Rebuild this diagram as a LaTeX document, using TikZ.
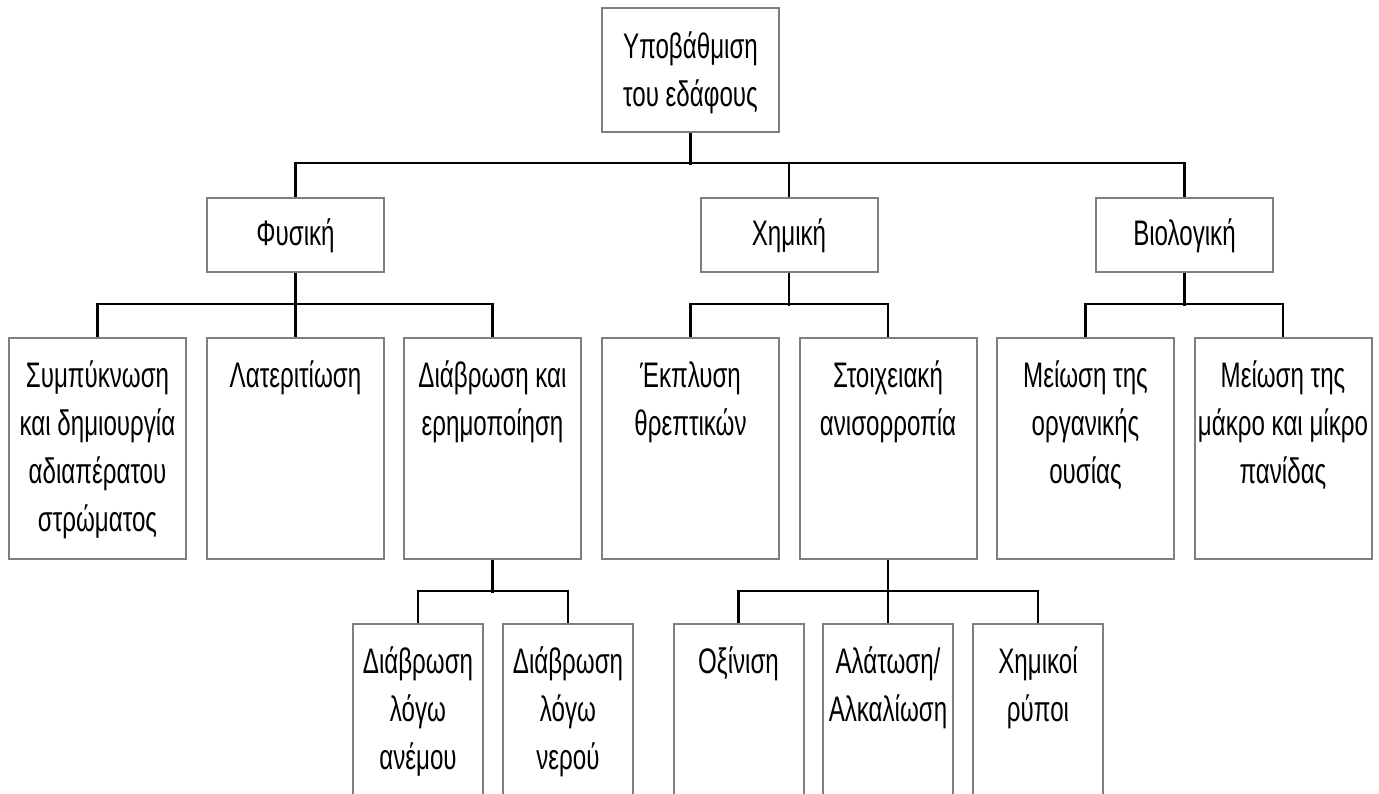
\documentclass[tikz,border=0pt]{standalone}
\usepackage{fontspec}
\setmainfont{Liberation Sans}[FakeStretch=0.68]
\definecolor{boxgray}{HTML}{7F7F7F}
% strut that fixes the height of the first text line
\newcommand\firstline{\rule{0pt}{33pt}}
\begin{document}
\begin{tikzpicture}[x=1pt,y=-1pt,
  cell/.style={draw=boxgray, line width=2pt, fill=white, inner sep=0pt, anchor=north},
  wide/.style={cell, minimum width=177pt},
  narrow/.style={cell, minimum width=130pt, minimum height=200pt},
  txt/.style={inner sep=0pt, align=center, font=\fontsize{35.5}{48}\selectfont},
  link/.style={draw=black, line width=2.5pt},
]
\useasboundingbox (0,0) rectangle (1379,794);
\fill[white] (0,0) rectangle (1379,794);
\clip (0,0) rectangle (1379,794);

% root
\node[wide, minimum height=124pt] (T) at (690.5,7) {};
\node[txt, anchor=north] (tT) at ([yshift=-18pt]T.north) {\firstline Υποβάθμιση\\του εδάφους};

% first level
\node[wide, minimum height=74pt] (F) at (295.5,197) {};
\node[wide, minimum height=74pt] (X) at (789,197) {};
\node[wide, minimum height=74pt] (B) at (1184.5,197) {};
\node[txt, anchor=base] (tF) at ([yshift=-11pt]F.center) {Φυσική};
\node[txt, anchor=base] (tX) at ([yshift=-11pt]X.center) {Χημική};
\node[txt, anchor=base] (tB) at ([yshift=-11pt]B.center) {Βιολογική};

% second level
\foreach \n/\x in {c1/97.5, c2/295.5, c3/492.5, c4/690.5, c5/888, c6/1085.5, c7/1283}
  \node[wide, minimum height=221pt] (\n) at (\x,337) {};
\node[txt, anchor=north] (t1) at ([yshift=-17pt]c1.north) {\firstline Συμπύκνωση\\και δημιουργία\\αδιαπέρατου\\στρώματος};
\node[txt, anchor=north] (t2) at ([yshift=-17pt]c2.north) {\firstline Λατεριτίωση};
\node[txt, anchor=north] (t3) at ([yshift=-17pt]c3.north) {\firstline Διάβρωση και\\ερημοποίηση};
\node[txt, anchor=north] (t4) at ([yshift=-17pt]c4.north) {\firstline Έκπλυση\\θρεπτικών};
\node[txt, anchor=north] (t5) at ([yshift=-17pt]c5.north) {\firstline Στοιχειακή\\ανισορροπία};
\node[txt, anchor=north] (t6) at ([yshift=-17pt]c6.north) {\firstline Μείωση της\\οργανικής\\ουσίας};
\node[txt, anchor=north] (t7) at ([yshift=-17pt]c7.north) {\firstline Μείωση της\\μάκρο και μίκρο\\πανίδας};

% third level
\foreach \n/\x in {d1/418, d2/568, d3/738.5, d4/888, d5/1038}
  \node[narrow] (\n) at (\x,623) {};
\node[txt, anchor=north] (u1) at ([yshift=-17pt]d1.north) {\firstline Διάβρωση\\λόγω\\ανέμου};
\node[txt, anchor=north] (u2) at ([yshift=-17pt]d2.north) {\firstline Διάβρωση\\λόγω\\νερού};
\node[txt, anchor=north] (u3) at ([yshift=-17pt]d3.north) {\firstline Οξίνιση};
\node[txt, anchor=north] (u4) at ([yshift=-17pt]d4.north) {\firstline Αλάτωση/\\Αλκαλίωση};
\node[txt, anchor=north] (u5) at ([yshift=-17pt]d5.north) {\firstline Χημικοί\\ρύποι};

% connectors
\draw[link] (T.south) -- ++(0,32);
\draw[link] (F.north) -- ++(0,-34) -| (B.north);
\draw[link] (X.north) -- ++(0,-34);

\draw[link] (F.south) -- (c2.north);
\draw[link] (c1.north) -- ++(0,-33) -| (c3.north);
\draw[link] (X.south) -- ++(0,33);
\draw[link] (c4.north) -- ++(0,-33) -| (c5.north);
\draw[link] (B.south) -- ++(0,33);
\draw[link] (c6.north) -- ++(0,-33) -| (c7.north);

\draw[link] (c3.south) -- ++(0,33);
\draw[link] (d1.north) -- ++(0,-32) -| (d2.north);
\draw[link] (c5.south) -- (d4.north);
\draw[link] (d3.north) -- ++(0,-32) -| (d5.north);
\end{tikzpicture}
\end{document}
